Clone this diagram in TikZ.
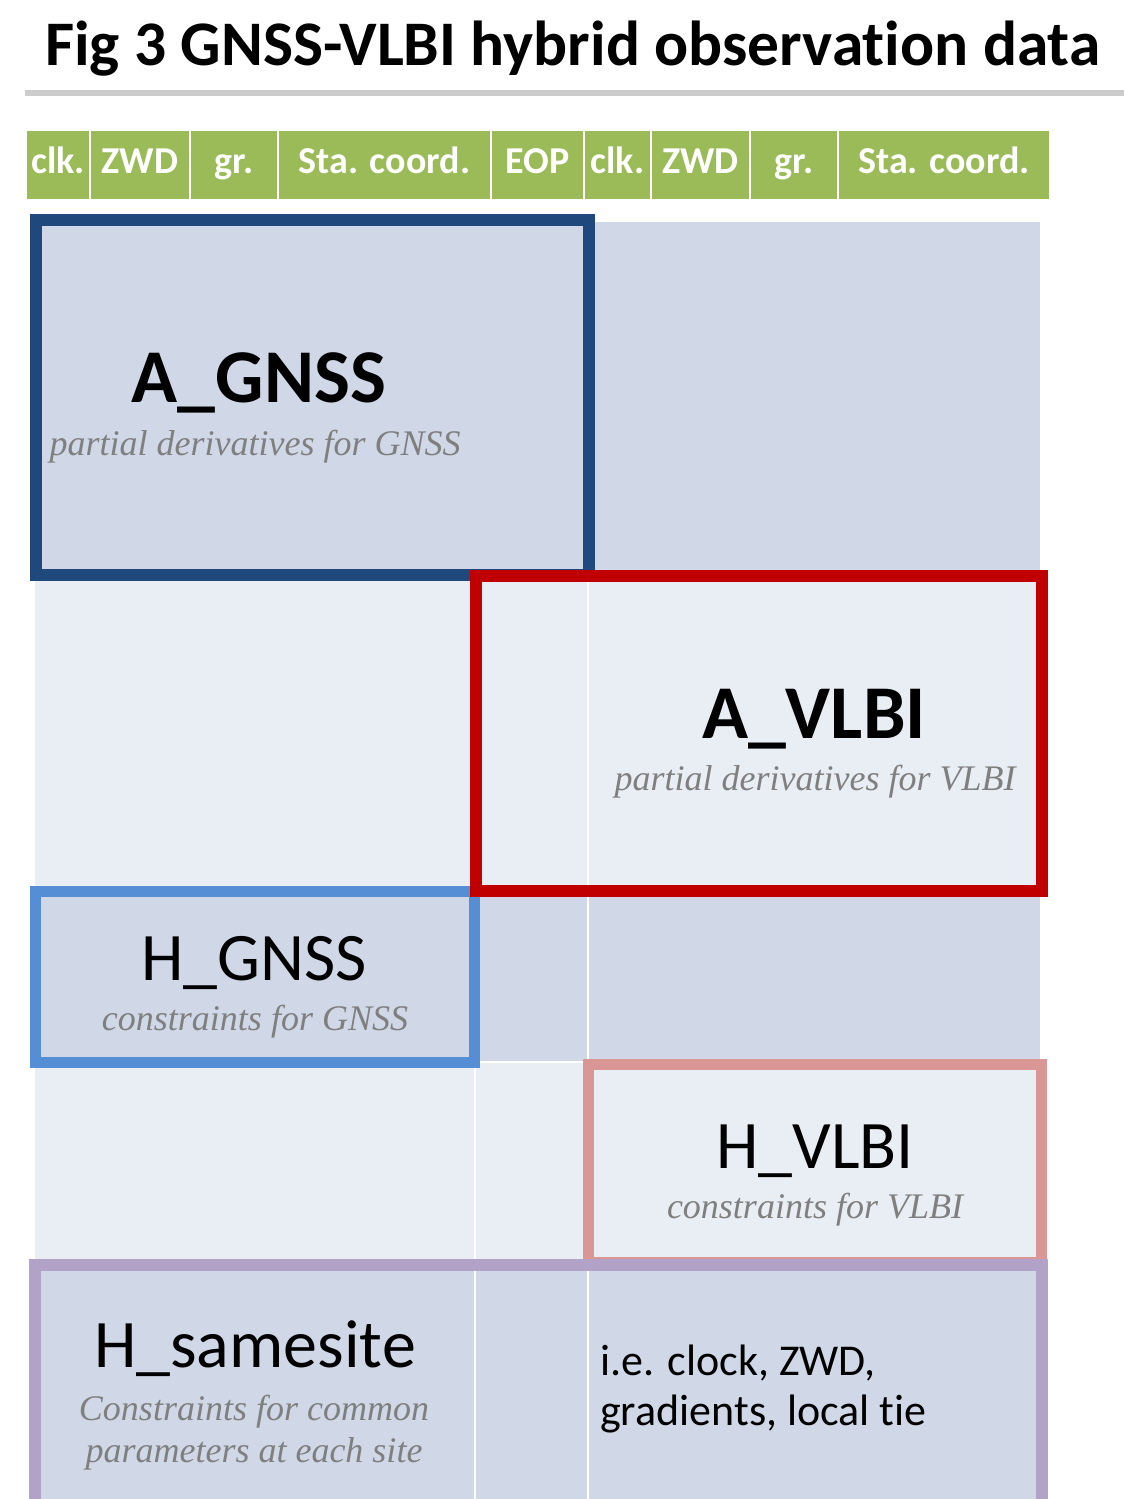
\documentclass[tikz,border=0pt]{standalone}
\usepackage{fontspec}
\setmainfont{Carlito}[Ligatures=NoCommon]
\newfontfamily\notefont{Liberation Serif}
\usetikzlibrary{shadows}

\definecolor{hdrgreen}{HTML}{9BBB59}
\definecolor{darkrow}{HTML}{D0D8E8}
\definecolor{lightrow}{HTML}{E9EDF4}
\definecolor{gnssblue}{HTML}{1F497D}
\definecolor{vlbired}{HTML}{C00000}
\definecolor{hgnssblue}{HTML}{558ED5}
\definecolor{hvlbipink}{HTML}{D99694}
\definecolor{samepurple}{HTML}{B3A2C7}
\definecolor{notegray}{HTML}{7F7F7F}

\begin{document}
\begin{tikzpicture}[x=1pt, y=-1pt]
\tikzstyle{every node}=[inner sep=0pt];
\tikzstyle{hcell}=[fill=hdrgreen, draw=white, line width=2pt, minimum height=70pt,
  text=white, text height=25pt, text depth=8pt, font=\fontsize{38}{44}\selectfont\bfseries];
\tikzstyle{frame}=[draw, line width=12pt, rectangle];
\tikzstyle{bigbold}=[anchor=base, font=\fontsize{76}{80}\selectfont\bfseries];
\tikzstyle{big}=[anchor=base, font=\fontsize{68}{72}\selectfont];
\tikzstyle{note}=[anchor=base, text=notegray, font=\fontsize{36}{40}\notefont\itshape];
\tikzstyle{body}=[anchor=base west, font=\fontsize{44}{50}\selectfont];
\useasboundingbox (0,0) rectangle (1124,1499);
\clip (0,0) rectangle (1124,1499);

% title
\node[fill=white, minimum width=1110pt, minimum height=95pt, anchor=north west,
  drop shadow={shadow xshift=0pt, shadow yshift=-6pt, opacity=0.4}] (titlebox) at (25,-5) {};
\node[anchor=base west, font=\fontsize{63.5}{70}\selectfont\bfseries] (title) at (45,65)
  {Fig 3 GNSS-VLBI hybrid observation data};

% header
\foreach \l/\r/\t [count=\i] in {26/90/clk., 90/190/ZWD, 190/278/gr., 278/491/Sta. coord.,
    491/584/EOP, 584/651/clk., 651/750/ZWD, 750/838/gr., 838/1050/Sta. coord.}
  \node[hcell, minimum width=\r-\l] (h\i) at ({(\l+\r)/2},165) {\t};

% table rows
\foreach \t/\b/\c in {222/578/darkrow, 578/890/lightrow, 890/1062/darkrow,
    1062/1262/lightrow, 1262/1510/darkrow}
  \fill[\c] (35,\t) rectangle (1040,\b);
\draw[white, line width=2pt] (35,1062) -- (1040,1062);
\draw[white, line width=2pt] (475,578) -- (475,1510);
\draw[white, line width=2pt] (588,578) -- (588,1510);

% blocks
\node[frame, draw=gnssblue, minimum width=553pt, minimum height=355pt] (agnssbox) at (312,397.5) {};
\node[frame, draw=hgnssblue, line width=11pt, minimum width=439pt, minimum height=171pt] (hgnssbox) at (255,977) {};
\node[frame, draw=vlbired, minimum width=566pt, minimum height=315pt] (avlbibox) at (759,733.5) {};
\node[frame, draw=hvlbipink, line width=11pt, minimum width=453pt, minimum height=198pt] (hvlbibox) at (815,1163) {};
\node[frame, draw=samepurple, minimum width=1007pt, minimum height=255pt] (samebox) at (538.5,1392.5) {};

% labels
\node[bigbold] (agnss) at (259,402) {A\_GNSS};
\node[note] (agnssnote) at (255,455) {partial derivatives for GNSS};
\node[bigbold] (avlbi) at (814,738) {A\_VLBI};
\node[note] (avlbinote) at (815,790) {partial derivatives for VLBI};
\node[big] (hgnss) at (254,980) {H\_GNSS};
\node[note] (hgnssnote) at (255,1030) {constraints for GNSS};
\node[big] (hvlbi) at (815,1168) {H\_VLBI};
\node[note] (hvlbinote) at (815,1218) {constraints for VLBI};
\node[big] (hsame) at (255,1367) {H\_samesite};
\node[note] (hsamenote1) at (254,1420) {Constraints for common};
\node[note] (hsamenote2) at (254,1462) {parameters at each site};
\node[body] (ie1) at (600,1375) {i.e. clock, ZWD,};
\node[body] (ie2) at (600,1425) {gradients, local tie};
\end{tikzpicture}
\end{document}
